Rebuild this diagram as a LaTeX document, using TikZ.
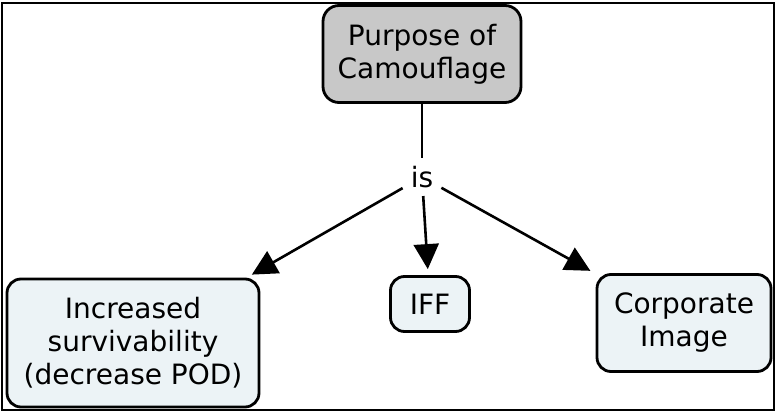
\documentclass[tikz,border=0pt]{standalone}
\usepackage{fontspec}
\setmainfont{DejaVu Sans}
\usetikzlibrary{arrows.meta}
\definecolor{topgray}{RGB}{200,200,200}
\definecolor{conceptfill}{RGB}{236,243,246}
\tikzset{
    %Define standard arrow tip
    >={Triangle[length=25pt,width=25pt]},
    %Define style for boxes
    concept/.style={
           rectangle,
           rounded corners=14pt,
           draw=black, line width=2.8pt,
           inner sep=0pt,
           align=center,
           font=\fontsize{28}{33}\selectfont,
           fill=conceptfill},
    topconcept/.style={
           concept,
           rounded corners=16pt,
           fill=topgray},
    linkword/.style={
           inner sep=8pt,
           font=\fontsize{28}{33}\selectfont},
    % Define arrow style
    pil/.style={
           ->,
           line width=2.6pt,
           shorten >=6pt}
}

\begin{document}
\begin{tikzpicture}[x=1pt,y=1pt]
\useasboundingbox (0,0) rectangle (776,412);
\draw[line width=2.4pt] (2,2) rectangle (774,409);
\node[topconcept, minimum width=198pt, minimum height=97pt] (purpose) at (422,358) {Purpose of\\Camouflage};
\node[linkword] (is) at (422,235) {is};
\node[concept, minimum width=252pt, minimum height=128pt] (surv) at (133,69) {Increased\\survivability\\(decrease POD)};
\node[concept, minimum width=79pt, minimum height=55pt] (iff) at (430,108) {IFF};
\node[concept, minimum width=174pt, minimum height=97pt] (corp) at (684,89) {Corporate\\Image};
\draw[line width=2.6pt] (purpose) -- (is);
\path[pil]
	(is) edge (surv)
	(is) edge (iff)
	(is) edge (corp);
\end{tikzpicture}
\end{document}
